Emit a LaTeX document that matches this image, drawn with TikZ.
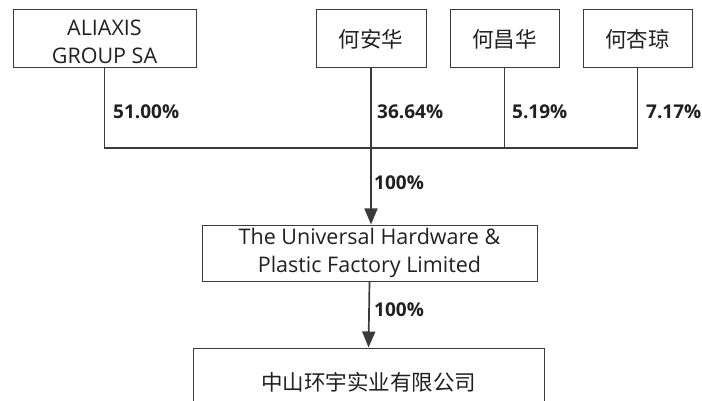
\documentclass[tikz,border=0pt]{standalone}
\usepackage{fontspec}
\setmainfont{Open Sans}
\newfontfamily\cjk{Noto Sans CJK SC}
\usetikzlibrary{positioning,arrows.meta}
\definecolor{linegray}{HTML}{3A3A3A}
\definecolor{txtgray}{HTML}{202020}

\begin{document}
\begin{tikzpicture}[x=1pt, y=-1pt,
		box/.style={draw=linegray, line width=1pt, minimum height=58pt, align=center, font=\fontsize{21.5}{28}\selectfont, text=txtgray, inner sep=0pt},
		pct/.style={anchor=west, font=\fontsize{19}{22}\selectfont\bfseries, text=txtgray, inner sep=0pt},
		bus/.style={draw=linegray, line width=1.7pt},
		arr/.style={draw=linegray, line width=1.7pt, -{Triangle[length=16pt, width=13pt]}}]
				\useasboundingbox (0,0) rectangle (702,401);
				\clip (0,0) rectangle (702,401);
				\node[box, minimum width=183pt, text height=50pt, text depth=0pt] (aliaxis) at (104.5,39) {ALIAXIS\\GROUP SA};
				\node[box, minimum width=110pt] (hah) at (371,39) {\cjk 何安华};
				\node[box, minimum width=109pt] (hch) at (504.5,39) {\cjk 何昌华};
				\node[box, minimum width=109pt] (hxq) at (637.5,39) {\cjk 何杏琼};
				\node[box, minimum width=335pt, minimum height=56pt] (uhp) at (369.5,253) {The Universal Hardware \&\\Plastic Factory Limited};
				\node[box, minimum width=351pt, minimum height=68pt] (zshy) at (368.5,382) {\cjk 中山环宇实业有限公司};
				\coordinate (join) at (371,148);
				\draw[bus] (aliaxis.south) -- (aliaxis.south |- join) -- (join -| hxq.south) -- (hxq.south);
				\draw[bus] (hah.south) -- (join);
				\draw[bus] (hch.south) -- (hch.south |- join);
				\draw[arr] (join) -- (join |- uhp.north);
				\draw[arr] (uhp.south) -- (zshy.north);
				\node[pct] (p1) at (113,112) {51.00\%};
				\node[pct] (p2) at (377,112) {36.64\%};
				\node[pct] (p3) at (512,112) {5.19\%};
				\node[pct] (p4) at (646,112) {7.17\%};
				\node[pct] (p5) at (374,183) {100\%};
				\node[pct] (p6) at (374,310) {100\%};
			\end{tikzpicture}
\end{document}
